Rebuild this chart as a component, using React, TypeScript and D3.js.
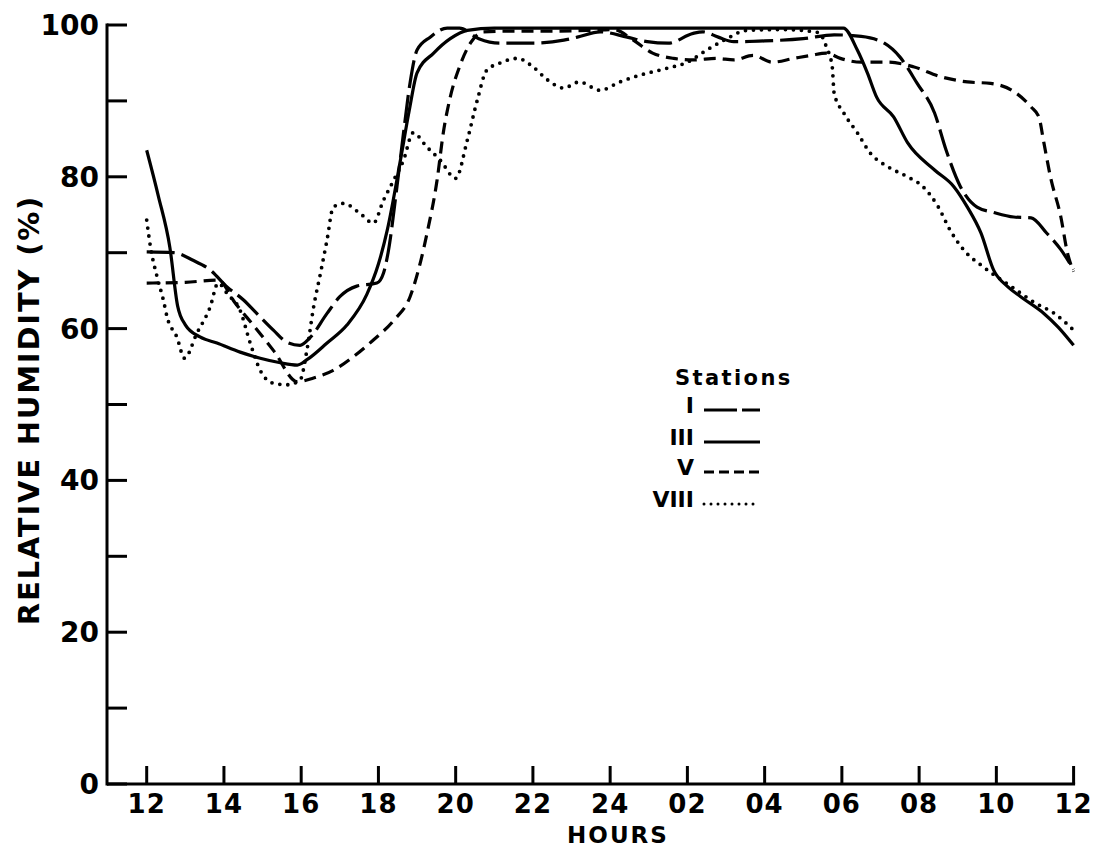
import React, { useEffect, useRef } from 'react';
import * as d3 from 'd3';

// hours after 12:00 (0..24) and relative humidity (%)
const stationI: [number, number][] = [
  [0, 70.1], [0.7, 70], [1.2, 69], [1.65, 67.7], [2.08, 65.5], [2.5, 63.8], [2.85, 62],
  [3.28, 59.8], [3.63, 58.2], [3.97, 57.8], [4.23, 58.8], [4.67, 62], [5.0, 64.2],
  [5.44, 65.6], [5.96, 66], [6.13, 67.3], [6.25, 70], [6.48, 78.7], [6.65, 85.8],
  [6.82, 92.4], [7.0, 96.7], [7.34, 98.4], [7.78, 99.6], [8.1, 99.6], [8.6, 98.2],
  [9.15, 97.6], [10.0, 97.6], [10.8, 98], [11.15, 98.4], [11.74, 99.1], [12.44, 98.4],
  [12.96, 97.8], [13.5, 97.6], [14.15, 98.9], [14.4, 99.1], [14.8, 98.4], [15.2, 97.8],
  [16, 97.9], [17, 98.2], [17.8, 98.7], [18.5, 98.5], [19.1, 97.6], [19.5, 95.8],
  [19.95, 92.3], [20.4, 88.4], [20.7, 83.5], [21.07, 78.7], [21.5, 76], [21.93, 75.3],
  [22.45, 74.7], [22.9, 74.6], [23.3, 72.6], [23.67, 70.4], [24, 67.8],
];

const stationIII: [number, number][] = [
  [0, 83.5], [0.3, 77.5], [0.6, 70.7], [0.8, 63], [1.0, 60.5], [1.38, 58.9], [1.82, 58.1],
  [2.42, 56.9], [2.94, 56.1], [3.46, 55.5], [3.9, 55.2], [4.15, 55.9], [4.67, 58.1],
  [5.19, 60.5], [5.7, 64.5], [6.0, 68.5], [6.23, 73], [6.57, 82.2], [6.8, 88.8],
  [7.0, 93.7], [7.43, 96.3], [7.86, 98.2], [8.3, 99.3], [9, 99.6], [18.04, 99.6],
  [18.4, 96.7], [18.66, 93.7], [18.9, 90.5], [19.34, 87.9], [19.7, 84.5], [20.4, 80.9],
  [20.9, 78.7], [21.25, 76], [21.6, 72.6], [21.93, 67.7], [22.3, 65.5], [22.63, 64.2],
  [23.23, 62], [23.6, 60.2], [24, 57.8],
];

const stationV: [number, number][] = [
  [0, 66], [1.0, 66.1], [1.85, 66.4], [2.3, 63.3], [2.8, 60.2], [3.3, 57], [3.9, 53],
  [4.32, 53.5], [4.83, 54.5], [5.35, 56.3], [5.87, 58.5], [6.4, 61.1], [6.82, 64.2],
  [7.1, 69], [7.26, 72.6], [7.52, 79.6], [7.68, 85.8], [7.86, 90.5], [8.1, 94.5],
  [8.38, 97.6], [8.72, 99.1], [9.5, 99.2], [10.5, 99.2], [11.5, 99.3], [12.1, 99.4],
  [12.6, 98], [13.1, 96.3], [13.64, 95.6], [14.15, 95.4], [14.76, 95.6], [15.2, 95.4],
  [15.7, 96], [16.2, 95.1], [16.75, 95.6], [17.2, 96], [17.6, 96.3], [17.96, 95.6],
  [18.5, 95.1], [19.2, 95.1], [19.85, 94.5], [20.55, 93.2], [21.25, 92.5], [21.85, 92.3],
  [22.4, 91.4], [22.9, 89.2], [23.1, 87.9], [23.23, 84.5], [23.4, 80], [23.67, 74.7],
  [23.84, 70], [24, 67.5],
];

const stationVIII: [number, number][] = [
  [0, 74.3], [0.1, 70.7], [0.27, 66.8], [0.43, 63.8], [0.53, 61.5], [0.78, 58.9],
  [0.98, 56.1], [1.3, 59.4], [1.64, 62.8], [1.85, 66], [2.1, 64.5], [2.42, 62.4],
  [2.68, 58.1], [2.94, 54.5], [3.28, 52.8], [3.63, 52.6], [3.97, 53.2], [4.15, 57.2],
  [4.32, 62.8], [4.5, 67.3], [4.67, 71.7], [4.83, 76], [5.1, 76.5], [5.52, 75.2],
  [5.87, 73.9], [6.13, 76.9], [6.4, 79.6], [6.65, 82.2], [6.9, 85.8], [7.26, 83.9],
  [7.6, 82.2], [8.0, 79.8], [8.3, 84.8], [8.56, 90.1], [8.8, 94], [9.15, 95], [9.6, 95.6],
  [10, 94.5], [10.37, 92.8], [10.8, 91.7], [11.2, 92.5], [11.74, 91.4], [12.25, 92.5],
  [12.78, 93.4], [13.47, 94.3], [14, 95.1], [14.5, 96.7], [14.95, 98], [15.55, 99.3],
  [16.5, 99.4], [17.4, 99], [17.6, 97.1], [17.75, 94.5], [17.8, 91], [18.05, 88.4],
  [18.4, 85.8], [18.74, 83.1], [19.2, 81.3], [19.7, 80], [20.1, 78.7], [20.5, 76],
  [20.8, 73], [21.15, 70.4], [21.67, 68.1], [22.4, 65.5], [23, 63.4], [23.5, 62], [24, 59.8],
];

const hourTicks = [0, 2, 4, 6, 8, 10, 12, 14, 16, 18, 20, 22, 24];
const hourLabels = ['12', '14', '16', '18', '20', '22', '24', '02', '04', '06', '08', '10', '12'];
const rhTicks = [0, 10, 20, 30, 40, 50, 60, 70, 80, 90, 100];
const rhLabels = [0, 20, 40, 60, 80, 100];

const stationNames = ['I', 'III', 'V', 'VIII'];

const FONT = '"DejaVu Sans", sans-serif';

const App = () => {
  const ref = useRef<SVGSVGElement | null>(null);

  useEffect(() => {
    if (!ref.current) return;
    const svg = d3.select(ref.current);
    svg.selectAll('*').remove();

    const x = d3.scaleLinear().domain([0, 24]).range([146.7, 1073.6]);
    const y = d3.scaleLinear().domain([0, 100]).range([784, 25]);
    const axisX = 107;
    const ink = '#000';

    svg.append('rect').attr('width', 1102).attr('height', 851).attr('fill', '#fff');

    // axes lines
    svg.append('line')
      .attr('x1', axisX).attr('x2', axisX)
      .attr('y1', y(100) - 1.5).attr('y2', y(0) + 1.5)
      .attr('stroke', ink).attr('stroke-width', 3);
    svg.append('line')
      .attr('x1', axisX).attr('x2', x(24) + 1.5)
      .attr('y1', y(0)).attr('y2', y(0))
      .attr('stroke', ink).attr('stroke-width', 3);

    // y ticks (inward)
    svg.selectAll('.ytick')
      .data(rhTicks)
      .enter()
      .append('line')
      .attr('x1', axisX).attr('x2', axisX + 20)
      .attr('y1', d => y(d)).attr('y2', d => y(d))
      .attr('stroke', ink).attr('stroke-width', 3);

    svg.selectAll('.ylab')
      .data(rhLabels)
      .enter()
      .append('text')
      .attr('x', 99)
      .attr('y', d => y(d) + 10)
      .attr('text-anchor', 'end')
      .style('font-family', FONT)
      .style('font-weight', 'bold')
      .style('font-size', '28px')
      .text(d => String(d));

    // x ticks (upward)
    svg.selectAll('.xtick')
      .data(hourTicks)
      .enter()
      .append('line')
      .attr('x1', d => x(d)).attr('x2', d => x(d))
      .attr('y1', y(0)).attr('y2', y(0) - 18)
      .attr('stroke', ink).attr('stroke-width', 3);

    svg.selectAll('.xlab')
      .data(hourTicks)
      .enter()
      .append('text')
      .attr('x', d => x(d))
      .attr('y', 813)
      .attr('text-anchor', 'middle')
      .style('font-family', FONT)
      .style('font-weight', 'bold')
      .style('font-size', '26px')
      .style('letter-spacing', '1px')
      .text((d, i) => hourLabels[i]);

    svg.append('text')
      .attr('x', 618)
      .attr('y', 843)
      .attr('text-anchor', 'middle')
      .style('font-family', FONT)
      .style('font-weight', 'bold')
      .style('font-size', '23px')
      .style('letter-spacing', '2px')
      .text('HOURS');

    svg.append('text')
      .attr('transform', 'translate(39,410) rotate(-90)')
      .attr('text-anchor', 'middle')
      .style('font-family', FONT)
      .style('font-weight', 'bold')
      .style('font-size', '29px')
      .style('letter-spacing', '1.8px')
      .text('RELATIVE HUMIDITY (%)');

    const styles = [
      { data: stationI, dash: '28 7', cap: 'butt', width: 3.2 },
      { data: stationIII, dash: null, cap: 'butt', width: 3.2 },
      { data: stationV, dash: '12 7', cap: 'butt', width: 3.2 },
      { data: stationVIII, dash: '0 8', cap: 'round', width: 3.8 },
    ];

    const line = d3.line<[number, number]>()
      .x(d => x(d[0]))
      .y(d => y(d[1]))
      .curve(d3.curveMonotoneX);

    styles.forEach(s => {
      const p = svg.append('path')
        .attr('d', line(s.data))
        .attr('fill', 'none')
        .attr('stroke', ink)
        .attr('stroke-width', s.width)
        .attr('stroke-linecap', s.cap)
        .attr('stroke-linejoin', 'round');
      if (s.dash) p.attr('stroke-dasharray', s.dash);
    });

    // legend
    const lg = svg.append('g');
    lg.append('text')
      .attr('x', 675).attr('y', 385)
      .style('font-family', FONT)
      .style('font-weight', 'bold')
      .style('font-size', '21px')
      .style('letter-spacing', '2.4px')
      .text('Stations');

    const legendDash = ['33 5', null, '10 5', '0 7'];
    const rowBase = [413, 445, 475, 507];
    stationNames.forEach((name, i) => {
      lg.append('text')
        .attr('x', 694).attr('y', rowBase[i])
        .attr('text-anchor', 'end')
        .style('font-family', FONT)
        .style('font-weight', 'bold')
        .style('font-size', '22px')
        .text(name);
      const l = lg.append('line')
        .attr('x1', 704).attr('x2', 760)
        .attr('y1', rowBase[i] - 3).attr('y2', rowBase[i] - 3)
        .attr('stroke', ink)
        .attr('stroke-width', 3)
        .attr('stroke-linecap', i === 3 ? 'round' : 'butt');
      if (legendDash[i]) l.attr('stroke-dasharray', legendDash[i]);
    });
  }, []);

  return (
    <svg
      ref={ref}
      width={1102}
      height={851}
      style={{ position: 'absolute', left: 0, top: 0 }}
    />
  );
};

export default App;
